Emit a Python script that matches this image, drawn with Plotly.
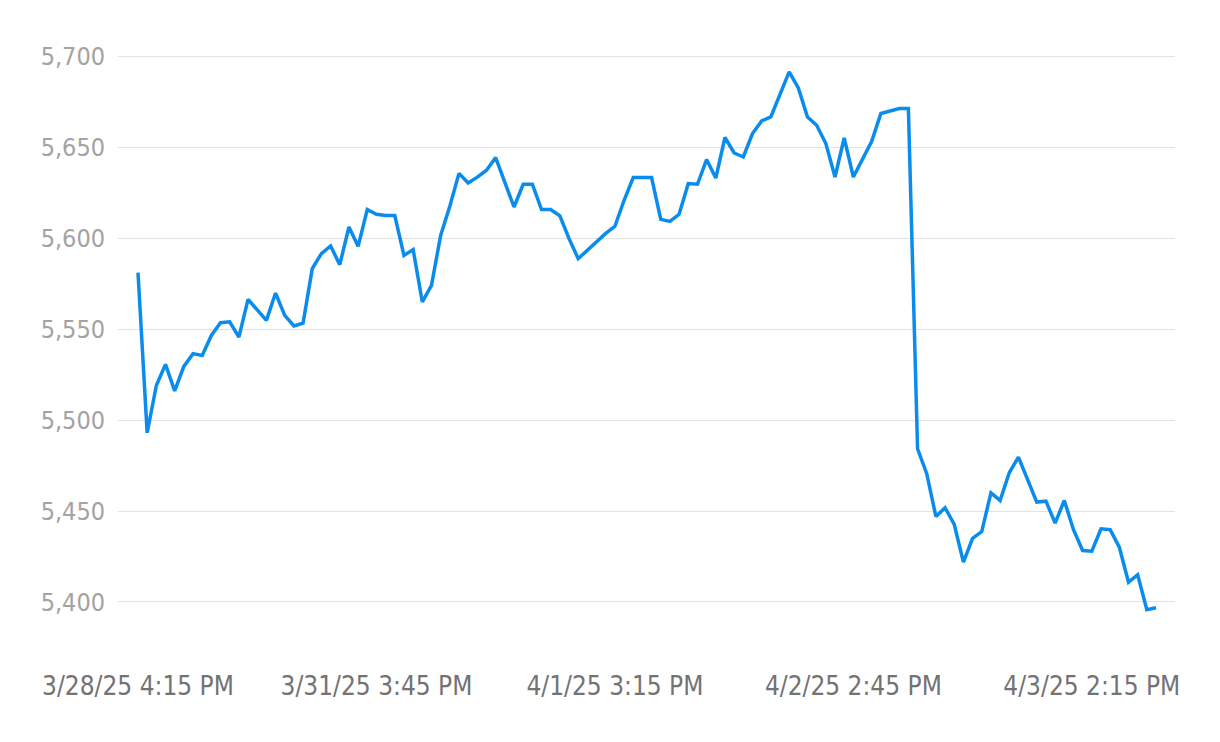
import plotly.graph_objects as go

# S&P 500 level, one point every 15 minutes of trading
levels = [
    5581.0, 5493.0, 5519.0, 5530.6, 5516.0, 5529.5, 5536.5, 5535.5, 5546.5, 5553.5,
    5554.0, 5545.6, 5566.3, 5560.3, 5554.8, 5569.8, 5557.5, 5551.7, 5553.3, 5583.2,
    5591.5, 5595.7, 5585.4, 5606.1, 5595.5, 5615.7, 5613.1, 5612.4, 5612.4, 5590.5,
    5593.7, 5564.9, 5574.0, 5601.5, 5617.5, 5635.6, 5630.3, 5633.5, 5637.3, 5644.3,
    5631.0, 5617.1, 5629.6, 5629.6, 5615.7, 5615.7, 5612.2, 5599.7, 5588.7, 5593.3,
    5598.0, 5602.6, 5606.5, 5620.8, 5633.3, 5633.3, 5633.3, 5610.3, 5609.2, 5613.1,
    5630.0, 5629.6, 5643.2, 5633.0, 5655.3, 5646.8, 5644.6, 5657.5, 5664.4, 5666.6,
    5678.5, 5691.4, 5682.6, 5666.6, 5662.0, 5652.0, 5633.6, 5655.1, 5633.6, 5643.3,
    5653.2, 5668.5, 5669.7, 5671.2, 5671.2, 5484.2, 5470.5, 5447.0, 5451.8, 5442.6,
    5421.9, 5435.0, 5438.7, 5460.0, 5455.8, 5471.0, 5479.6, 5467.2, 5454.9, 5455.4,
    5443.3, 5455.8, 5439.7, 5428.3, 5427.9, 5440.2, 5439.7, 5430.1, 5410.9, 5414.9,
    5395.8, 5396.8,
]

tick_positions = [0, 26, 52, 78, 104]
tick_labels = [
    "3/28/25 4:15 PM",
    "3/31/25 3:45 PM",
    "4/1/25 3:15 PM",
    "4/2/25 2:45 PM",
    "4/3/25 2:15 PM",
]
y_ticks = [5400, 5450, 5500, 5550, 5600, 5650, 5700]

FONT = "Liberation Sans Narrow, DejaVu Sans Condensed, Roboto, sans-serif"

fig = go.Figure()

fig.add_trace(go.Scatter(
    x=list(range(len(levels))),
    y=levels,
    mode="lines",
    line=dict(color="#0a8ced", width=3.5),
    hoverinfo="skip",
))

# page body keeps its 8px margin, so the figure is 8px smaller each way
fig.update_layout(
    width=1212,
    height=734,
    paper_bgcolor="white",
    plot_bgcolor="white",
    showlegend=False,
    margin=dict(l=110, r=45, t=30, b=80),
    font=dict(family=FONT),
    xaxis=dict(
        range=[-2.18, 113.07],
        tickvals=tick_positions,
        ticktext=tick_labels,
        showgrid=False,
        zeroline=False,
        showline=False,
        ticks="outside",
        ticklen=1,
        tickcolor="rgba(0,0,0,0)",
        tickfont=dict(family=FONT, size=26, color="#737373"),
    ),
    yaxis=dict(
        range=[5367, 5710],
        tickvals=y_ticks,
        tickformat=",",
        showgrid=True,
        gridcolor="#e2e2e2",
        gridwidth=1,
        zeroline=False,
        showline=False,
        ticks="outside",
        ticklen=7,
        tickcolor="rgba(0,0,0,0)",
        tickfont=dict(family=FONT, size=25, color="#a3a3a3"),
    ),
)

fig.write_html("out.html")
